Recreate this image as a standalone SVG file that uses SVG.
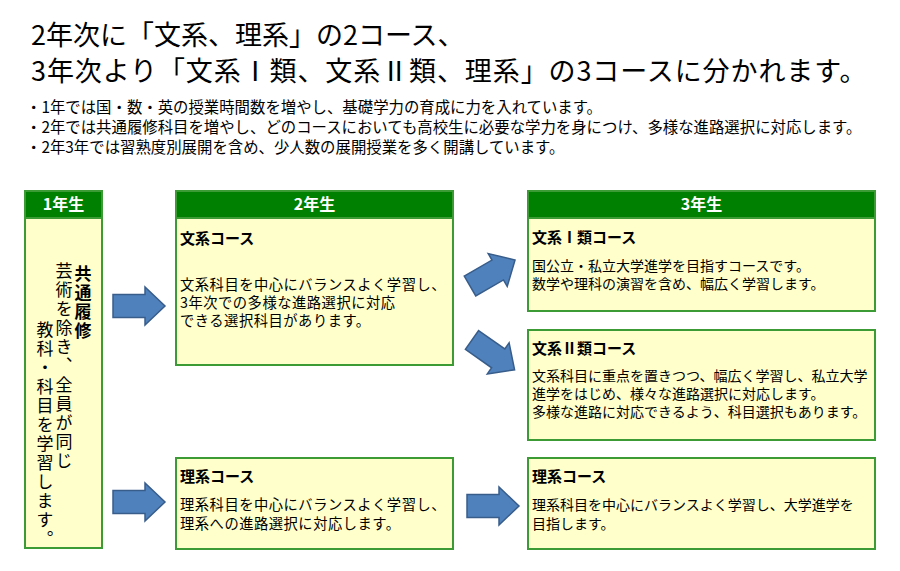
<svg xmlns="http://www.w3.org/2000/svg" width="900" height="571" viewBox="0 0 900 571">
<defs>
<style>
text{font-family:"Noto Sans CJK JP","Noto Sans",sans-serif;fill:#000}
.title{font-size:27px}
.bul{font-size:15.4px}
.body{fill:#FFFFCC;stroke:#3D9B35;stroke-width:2}
.head{fill:#008000;stroke:#3D9B35;stroke-width:2}
.ht{font-size:16px;font-weight:bold;fill:#fff;text-anchor:middle}
.ct{font-size:15px;font-weight:bold}
.tx{font-size:14.3px;letter-spacing:0.5px}
.tx3{font-size:14px}
.vt{font-size:17px;writing-mode:vertical-rl;letter-spacing:2px}
.arrow{fill:#4F81BD;stroke:#385D8A;stroke-width:1.5}
</style>
<path id="arr" d="M0,-11.5 H32 V-19 L52,0 L32,19 V11.5 H0 Z"/>
</defs>
<rect width="900" height="571" fill="#fff"/>
<g id="heading">
<text class="title" x="31" y="45">2年次に「文系、理系」の2コース、</text>
<text class="title" x="31" y="81" style="letter-spacing:0.9px">3年次より「文系Ⅰ類、文系Ⅱ類、理系」の3コースに分かれます。</text>
<text class="bul" x="26" y="113">・1年では国・数・英の授業時間数を増やし、基礎学力の育成に力を入れています。</text>
<text class="bul" x="26" y="133">・2年では共通履修科目を増やし、どのコースにおいても高校生に必要な学力を身につけ、多様な進路選択に対応します。</text>
<text class="bul" x="26" y="153">・2年3年では習熟度別展開を含め、少人数の展開授業を多く開講しています。</text>
</g>
<g id="year1">
<rect class="body" x="25" y="191" width="77" height="357"/>
<rect class="head" x="25" y="191" width="77" height="27"/>
<text class="ht" x="63.5" y="210">1年生</text>
<text class="vt" x="83" y="265" style="font-weight:bold">共通履修</text>
<text class="vt" x="64" y="262">芸術を除き、全員が同じ</text>
<text class="vt" x="45" y="321">教科・科目を学習します。</text>
</g>
<g id="y2-bunkei">
<rect class="body" x="176" y="191" width="277" height="174"/>
<rect class="head" x="176" y="191" width="277" height="27"/>
<text class="ht" x="314.5" y="210">2年生</text>
<text class="ct" x="180" y="244">文系コース</text>
<text class="tx" x="180" y="290">文系科目を中心にバランスよく学習し、</text>
<text class="tx" x="180" y="308">3年次での多様な進路選択に対応</text>
<text class="tx" x="180" y="326">できる選択科目があります。</text>
</g>
<g id="y3-bunkei1">
<rect class="body" x="528" y="191" width="347" height="120"/>
<rect class="head" x="528" y="191" width="347" height="27"/>
<text class="ht" x="701.5" y="210">3年生</text>
<text class="ct" x="532" y="243">文系Ⅰ類コース</text>
<text class="tx3" x="532" y="271">国公立・私立大学進学を目指すコースです。</text>
<text class="tx3" x="532" y="289">数学や理科の演習を含め、幅広く学習します。</text>
</g>
<g id="y3-bunkei2">
<rect class="body" x="528" y="330" width="347" height="110"/>
<text class="ct" x="532" y="354">文系Ⅱ類コース</text>
<text class="tx3" x="532" y="381">文系科目に重点を置きつつ、幅広く学習し、私立大学</text>
<text class="tx3" x="532" y="399">進学をはじめ、様々な進路選択に対応します。</text>
<text class="tx3" x="532" y="417">多様な進路に対応できるよう、科目選択もあります。</text>
</g>
<g id="y2-rikei">
<rect class="body" x="176" y="458" width="277" height="91"/>
<text class="ct" x="180" y="482">理系コース</text>
<text class="tx" x="180" y="510">理系科目を中心にバランスよく学習し、</text>
<text class="tx" x="180" y="529">理系への進路選択に対応します。</text>
</g>
<g id="y3-rikei">
<rect class="body" x="528" y="458" width="347" height="91"/>
<text class="ct" x="532" y="482">理系コース</text>
<text class="tx3" x="532" y="510">理系科目を中心にバランスよく学習し、大学進学を</text>
<text class="tx3" x="532" y="529">目指します。</text>
</g>
<g id="connectors">
<use href="#arr" class="arrow" transform="translate(113,306)"/>
<use href="#arr" class="arrow" transform="translate(113,502)"/>
<use href="#arr" class="arrow" transform="translate(467,506)"/>
<use href="#arr" class="arrow" transform="translate(470,286) rotate(-30)"/>
<use href="#arr" class="arrow" transform="translate(472,340) rotate(35)"/>
</g>
</svg>
